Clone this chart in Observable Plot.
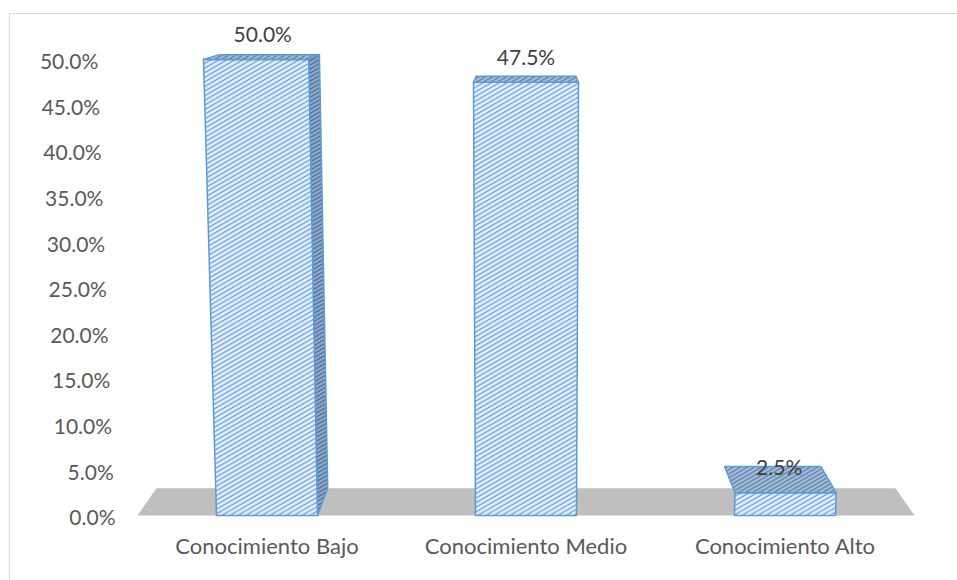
<!DOCTYPE html>
<html>
<head>
<meta charset="utf-8">
<script src="https://cdn.jsdelivr.net/npm/d3@7"></script>
<script src="https://cdn.jsdelivr.net/npm/@observablehq/plot@0.6"></script>
<style>
  html, body { margin: 0; padding: 0; background: #ffffff; overflow: hidden; }
  #chart { position: absolute; left: 0; top: 0; width: 957px; height: 580px; }
  #chart svg { position: absolute; left: 0; top: 0; }
  #frame { position: absolute; left: 9px; top: 13px; width: 960px; height: 600px;
           border: 1px solid #d9d9d9; pointer-events: none; z-index: 2; }
</style>
</head>
<body>
<div id="chart"></div>
<div id="frame"></div>
<script>
// Knowledge level results (share of respondents, %)
const categories = ["Conocimiento Bajo", "Conocimiento Medio", "Conocimiento Alto"];
const percentages = [50.0, 47.5, 2.5];
const yTicks = [0, 5, 10, 15, 20, 25, 30, 35, 40, 45, 50];

// 3-D column look, all in data units (x = category slot, y = percent)
const BAR_WIDTH = 0.39;      // column width as a fraction of a slot
const VANISH_X = 1.5;        // horizontal centre of the perspective
const VANISH_Y = 60.9;       // eye level, in percent
const DEPTH_SCALE = 0.951;   // how much the back face shrinks toward the eye point
const RISE_SPREAD = 0.00084; // columns (and the value axis) spread outward as they rise
const AXIS_X = -0.085;       // value-axis label anchor at the floor, in slot units

const frontPt = (x, v) => [VANISH_X + (x - VANISH_X) * (1 + RISE_SPREAD * v), v];
const backPt = ([x, v]) => [VANISH_X + DEPTH_SCALE * (x - VANISH_X), VANISH_Y + DEPTH_SCALE * (v - VANISH_Y)];

function polygon(id, pts) {
  return pts.map(([x, y]) => ({id, x, y}));
}

// floor plane under the columns
const floorPts = [frontPt(0, 0), frontPt(3, 0), backPt(frontPt(3, 0)), backPt(frontPt(0, 0))];
const floor = polygon("floor", floorPts);

const fronts = [], tops = [], sides = [], labels = [];
categories.forEach((c, i) => {
  const v = percentages[i];
  const l = i + 0.5 - BAR_WIDTH / 2, r = i + 0.5 + BAR_WIDTH / 2;
  const fbl = frontPt(l, 0), fbr = frontPt(r, 0), ftl = frontPt(l, v), ftr = frontPt(r, v);
  const btl = backPt(ftl), btr = backPt(ftr), bbr = backPt(fbr);
  fronts.push(...polygon(c, [fbl, fbr, ftr, ftl]));
  tops.push(...polygon(c, [ftl, ftr, btr, btl]));
  if (btr[0] > ftr[0]) sides.push(...polygon(c, [fbr, ftr, btr, bbr]));
  const fc = frontPt(i + 0.5, v), bc = backPt(fc);
  labels.push({x: (fc[0] + bc[0]) / 2, y: v, text: v.toFixed(1) + "%"});
});

// value-axis labels follow the same perspective lean as the columns
const tickLabels = yTicks.map(t => ({x: frontPt(AXIS_X, t)[0], y: t, text: t.toFixed(1) + "%"}));

const edge = {stroke: "#5b9bd5", strokeWidth: 1.5, strokeLinejoin: "round", curve: "linear-closed"};

const svg = Plot.plot({
  width: 957,
  height: 580,
  marginLeft: 137,
  marginRight: 43,
  marginTop: 59,
  marginBottom: 65,
  style: {fontFamily: "Lato, 'Open Sans', sans-serif", fontSize: "22px", color: "#595959", background: "transparent"},
  x: {type: "linear", domain: [0, 3], axis: null},
  y: {domain: [0, 50], axis: null},
  marks: [
    Plot.line(floor, {x: "x", y: "y", z: "id", fill: "#bfbfbf", stroke: "none", curve: "linear-closed"}),
    Plot.text(tickLabels, {x: "x", y: "y", text: "text", textAnchor: "end", dy: 3,
                           fontSize: 21, fill: "#595959"}),
    Plot.text(categories, {x: (d, i) => i + 0.5, y: () => 0, text: d => d, dy: 31,
                           fontSize: 22, fill: "#595959"}),
    Plot.line(sides, {x: "x", y: "y", z: "id", fill: "url(#hatchSide)", ...edge}),
    Plot.line(fronts, {x: "x", y: "y", z: "id", fill: "url(#hatchFront)", ...edge}),
    Plot.line(tops, {x: "x", y: "y", z: "id", fill: "url(#hatchTop)", ...edge}),
    Plot.text(labels, {x: "x", y: "y", text: "text", dy: -24, fontSize: 21, fill: "#404040"})
  ]
});

// hatch fills for the column faces
const defs = d3.select(svg).insert("defs", ":first-child");
function hatch(id, bg, line, size) {
  const p = defs.append("pattern")
    .attr("id", id)
    .attr("patternUnits", "userSpaceOnUse")
    .attr("width", size).attr("height", size)
    .attr("patternTransform", "rotate(-30)");
  p.append("rect").attr("width", size).attr("height", size).attr("fill", bg);
  p.append("line").attr("x1", 0).attr("x2", size).attr("y1", 0.6).attr("y2", 0.6)
    .attr("stroke", line).attr("stroke-width", 1.1);
}
hatch("hatchFront", "#e0edfa", "#6196d2", 4);
hatch("hatchSide", "#8fa9c9", "#3f6594", 3.5);
hatch("hatchTop", "#a3bcda", "#55789f", 3.5);

document.getElementById("chart").appendChild(svg);
</script>
</body>
</html>
